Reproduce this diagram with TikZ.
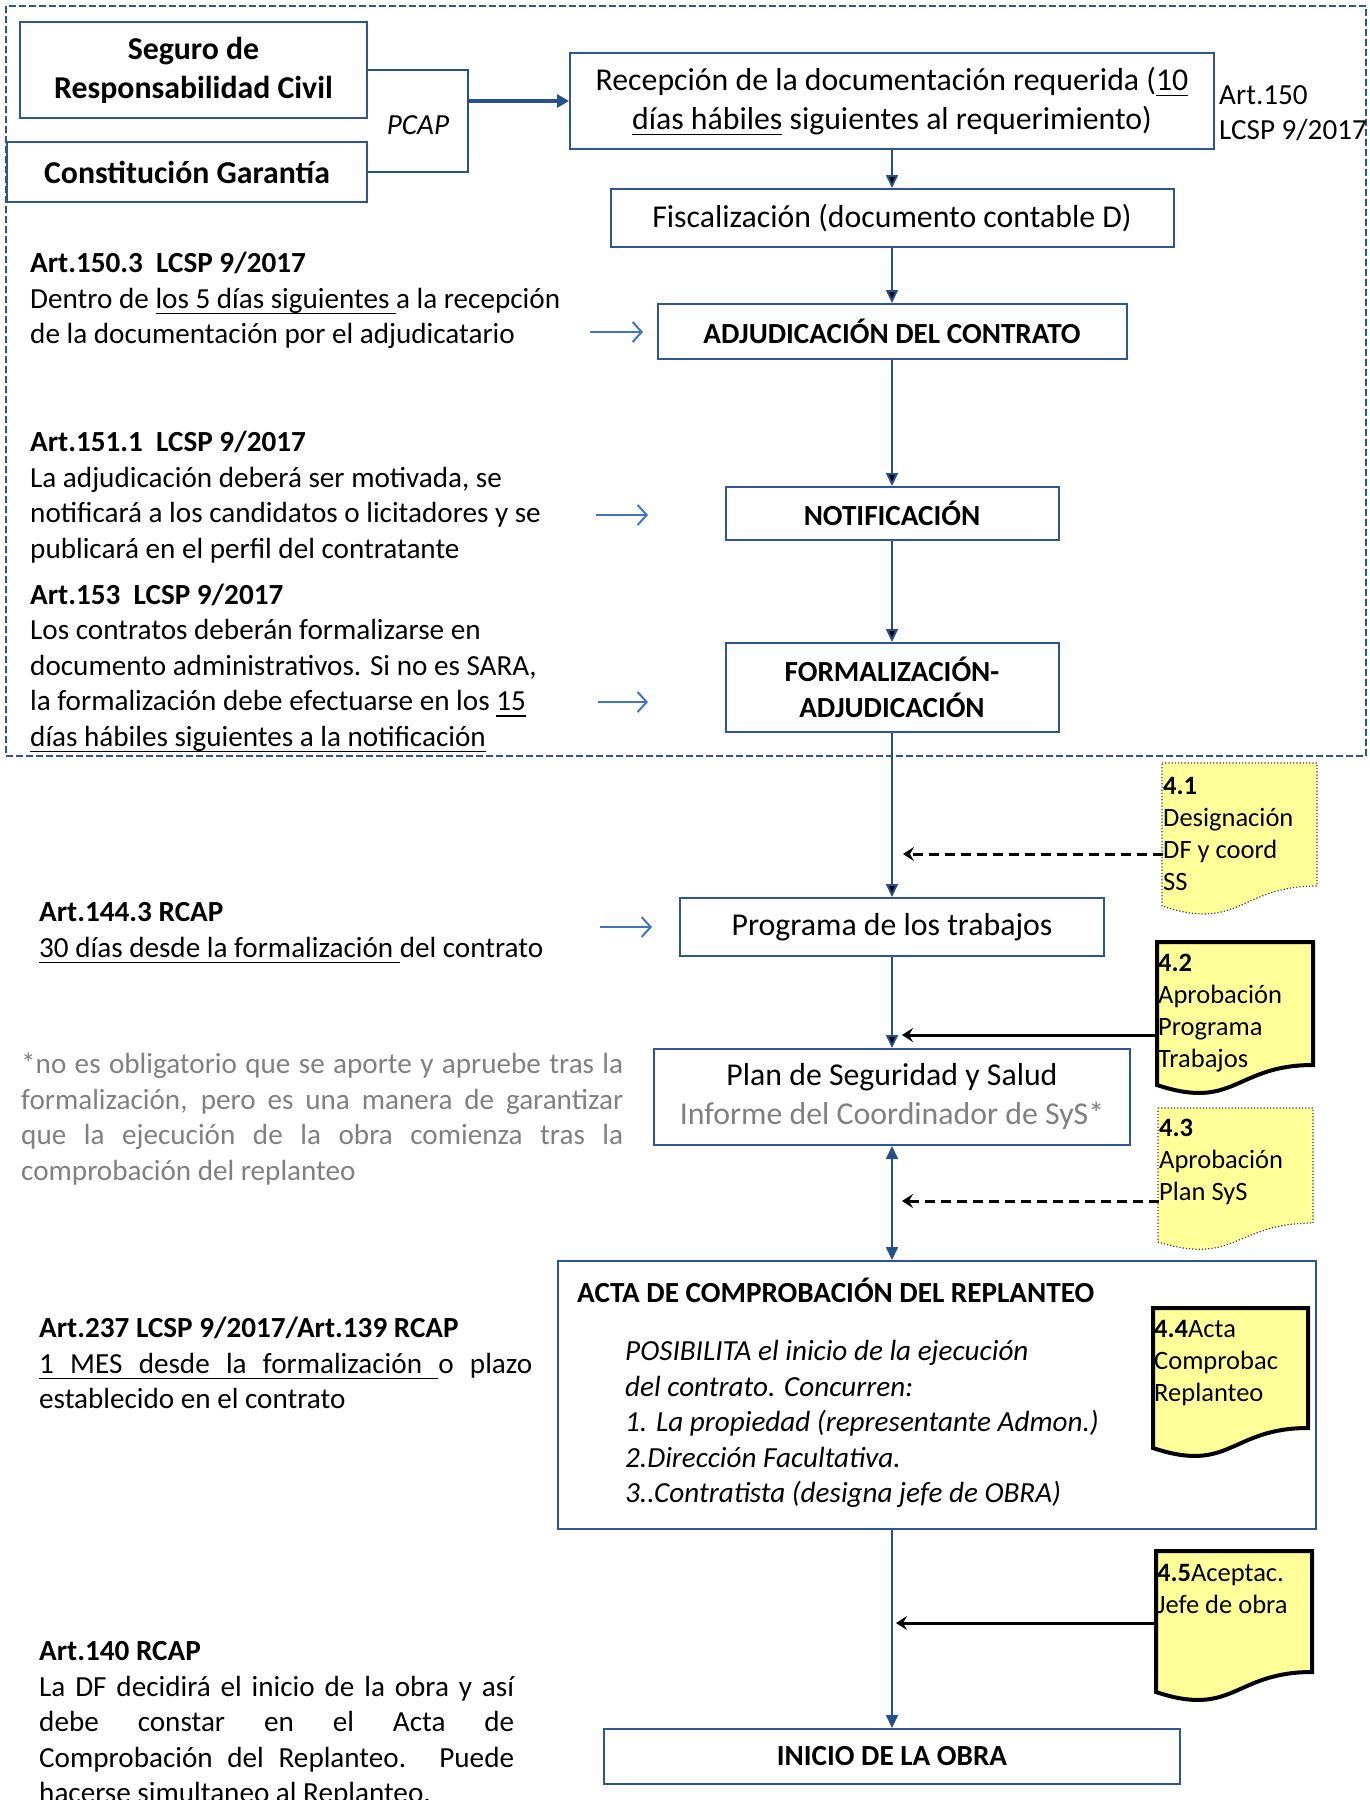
\documentclass[tikz,border=0pt]{standalone}
\usepackage{fontspec}
\setmainfont{Carlito}
\usetikzlibrary{arrows.meta}

\newcommand\sizeL{\fontsize{31.8}{39}\selectfont}
\newcommand\sizeM{\fontsize{29.15}{35.5}\selectfont}
\newcommand\sizeS{\fontsize{26.5}{32}\selectfont}
\newcommand\undl[1]{\leavevmode\setbox0\hbox{#1}\rlap{\rule[-6pt]{\wd0}{1.6pt}}\box0\relax}
\newcommand\ulgap{\leaders\hrule height -4.4pt depth 6pt\hskip\fontdimen2\font plus\fontdimen3\font minus\fontdimen4\font\relax}

\definecolor{boxblue}{RGB}{47,85,151}
\definecolor{flowblue}{RGB}{37,80,140}
\definecolor{refblue}{RGB}{68,114,196}
\definecolor{noteyellow}{RGB}{255,255,153}
\definecolor{softgrey}{RGB}{128,128,128}

\begin{document}
\begin{tikzpicture}[x=1pt,y=-1pt,
    flowbox/.style={draw=boxblue,line width=2pt,inner sep=0pt,align=center,font=\sizeL},
    flow/.style={draw=flowblue,line width=2pt,-{Triangle[length=13pt,width=12pt]}},
    refarrow/.style={draw=refblue,line width=2pt,-{Straight Barb[length=9pt,width=20pt]}},
    notelink/.style={draw=black,line width=3pt,-{Stealth[length=11pt,width=14pt,inset=4pt]}},
    notedash/.style={notelink,dash pattern=on 10pt off 6pt},
    notethick/.style={draw=black,line width=4pt,fill=noteyellow},
    notedot/.style={draw=black!75,line width=1.2pt,dotted,fill=noteyellow},
    notetext/.style={anchor=west,inner sep=0pt,align=left,font=\sizeS},
    law/.style={anchor=west,inner sep=0pt,align=left,font=\sizeM,yshift=-3pt}]
    \useasboundingbox (0,0) rectangle (1369,1800);

    \draw[draw=boxblue,line width=2pt,dash pattern=on 7pt off 3pt] (6,6) rectangle (1366,756);

    \node (seg) at (193.5,70) [flowbox,font=\sizeL\bfseries,minimum width=347pt,minimum height=96pt] {Seguro de\\Responsabilidad Civil};
    \node (con) at (187,172) [flowbox,font=\sizeL\bfseries,minimum width=360pt,minimum height=60pt] {Constitución Garantía};
    \node (pcap) at (418,125) [font=\sizeM\itshape] {PCAP};
    \node (rec) at (892,101) [flowbox,minimum width=644pt,minimum height=96pt] {Recepción de la documentación requerida (\undl{10}\\\undl{días hábiles} siguientes al requerimiento)};
    \node (art150) at (1219,113) [law,yshift=3pt] {Art.150\\LCSP 9/2017};
    \node (fis) at (892,218) [flowbox,minimum width=563pt,minimum height=58pt] {Fiscalización (documento contable D)};
    \node (adj) at (892,331.5) [flowbox,font=\sizeM\bfseries,minimum width=469pt,minimum height=55pt] {ADJUDICACIÓN DEL CONTRATO};
    \node (notif) at (892,513.5) [flowbox,font=\sizeM\bfseries,minimum width=333pt,minimum height=53pt] {NOTIFICACIÓN};
    \node (form) at (892,687.5) [flowbox,font=\sizeM\bfseries,minimum width=333pt,minimum height=89pt] {FORMALIZACIÓN-\\ADJUDICACIÓN};
    \node (prog) at (892,927) [flowbox,minimum width=424pt,minimum height=58pt] {Programa de los trabajos};
    \node (plan) at (892,1097) [flowbox,minimum width=476pt,minimum height=96pt] {Plan de Seguridad y Salud\\\textcolor{softgrey}{Informe del Coordinador de SyS*}};
    \node (acta) at (937,1395) [flowbox,minimum width=758pt,minimum height=268pt] {};
    \node (actatit) at (577,1290) [law,yshift=3pt,font=\sizeM\bfseries] {ACTA DE COMPROBACIÓN DEL REPLANTEO};
    \node (actatxt) at (625,1421) [law,font=\sizeM\itshape] {POSIBILITA el inicio de la ejecución\\del contrato. Concurren:\\1. La propiedad (representante Admon.)\\2.Dirección Facultativa.\\3..Contratista (designa jefe de OBRA)};
    \node (ini) at (892,1756.5) [flowbox,font=\sizeM\bfseries,minimum width=576pt,minimum height=55pt] {INICIO DE LA OBRA};

    \node (l1503) at (30,297.5) [law] {\textbf{Art.150.3\ \ LCSP 9/2017}\\Dentro de \undl{los 5 días siguientes\ }a la recepción\\de la documentación por el adjudicatario};
    \node (l1511) at (30,494) [law] {\textbf{Art.151.1\ \ LCSP 9/2017}\\La adjudicación deberá ser motivada, se\\notificará a los candidatos o licitadores y se\\publicará en el perfil del contratante};
    \node (l153) at (30,665) [law] {\textbf{Art.153\ \ LCSP 9/2017}\\Los contratos deberán formalizarse en\\documento administrativos. Si no es SARA,\\la formalización debe efectuarse en los \undl{15}\\\undl{días hábiles siguientes a la notificación}};
    \node (l1443) at (39,930) [law] {\textbf{Art.144.3 RCAP}\\\undl{30 días desde la formalización\ }del contrato};
    \node (nota) at (21,1116) [law,text width=602pt,align=justify,text=softgrey] {*no es obligatorio que se aporte y apruebe tras la\linebreak formalización, pero es una manera de garantizar\linebreak que la ejecución de la obra comienza tras la\linebreak comprobación del replanteo};
    \node (l237) at (39,1360) [law,text width=493pt,align=justify] {\textbf{Art.237 LCSP 9/2017/Art.139 RCAP}\\\undl{1}\ulgap\undl{MES}\ulgap\undl{desde}\ulgap\undl{la}\ulgap\undl{formalización}\ulgap o plazo\linebreak establecido en el contrato};
    \node (l140) at (39,1721.5) [law,text width=475pt,align=justify] {\textbf{Art.140 RCAP}\\La DF decidirá el inicio de la obra y así\linebreak debe constar en el Acta de\linebreak Comprobación del Replanteo. Puede\linebreak hacerse simultaneo al Replanteo.};

    \draw[notedot] (1162,763) -- (1317,763) -- (1317,886) .. controls (1239.5,886) and (1239.5,932) .. (1162,906) -- cycle;
    \draw[notethick] (1157,942) -- (1313,942) -- (1313,1065) .. controls (1235,1065) and (1235,1111) .. (1157,1085) -- cycle;
    \draw[notedot] (1158,1108) -- (1313,1108) -- (1313,1223) .. controls (1235.5,1223) and (1235.5,1266) .. (1158,1242) -- cycle;
    \draw[notethick] (1153,1308) -- (1308,1308) -- (1308,1428) .. controls (1230.5,1428) and (1230.5,1474) .. (1153,1448) -- cycle;
    \draw[notethick] (1156,1551) -- (1312,1551) -- (1312,1672) .. controls (1234,1672) and (1234,1718) .. (1156,1692) -- cycle;
    \node (n41) at (1163,833.5) [notetext] {\textbf{4.1}\\Designación\\DF y coord\\SS};
    \node (n42) at (1158,1013) [notetext] {\textbf{4.2}\\Aprobación\\Programa\\Trabajos};
    \node (n43) at (1159,1162) [notetext] {\textbf{4.3}\\Aprobación\\Plan SyS};
    \node (n44) at (1154,1363) [notetext] {\textbf{4.4}Acta\\Comprobac\\Replanteo};
    \node (n45) at (1157,1589) [notetext] {\textbf{4.5}Aceptac.\\Jefe de obra};

    \coordinate (j1) at (468,70);
    \coordinate (j2) at (468,172);
    \draw[draw=flowblue,line width=2.7pt] (seg.east) -- (j1) -- (j2) -- (con.east);
    \draw[draw=flowblue,line width=3.3pt,-{Triangle[length=12pt,width=13pt]}] (j1 |- rec.west) -- (rec.west);

    \draw[flow]
    (rec) edge (fis)
    (fis) edge (adj)
    (adj) edge (notif)
    (notif) edge (form)
    (form) edge (prog)
    (prog) edge (plan)
    ;
    \draw[flow,{Triangle[length=13pt,width=12pt]}-{Triangle[length=13pt,width=12pt]}] (plan) -- (plan.south |- acta.north);
    \draw[flow] (ini.north |- acta.south) -- (ini);

    \coordinate (r1a) at (590,332);
    \coordinate (r1b) at (643,332);
    \coordinate (r2a) at (596,515);
    \coordinate (r2b) at (648,515);
    \coordinate (r3a) at (598,702);
    \coordinate (r3b) at (648,702);
    \coordinate (r4a) at (600,927);
    \coordinate (r4b) at (652,927);
    \draw[refarrow] (r1a) -- (r1b);
    \draw[refarrow] (r2a) -- (r2b);
    \draw[refarrow] (r3a) -- (r3b);
    \draw[refarrow] (r4a) -- (r4b);

    \coordinate (c41) at (903,854);
    \coordinate (c42) at (902,1035);
    \coordinate (c43) at (902,1201);
    \coordinate (c45) at (896,1623);
    \draw[notedash] (n41.west |- c41) -- (c41);
    \draw[notelink] (n42.west |- c42) -- (c42);
    \draw[notedash] (n43.west |- c43) -- (c43);
    \draw[notelink] (n45.west |- c45) -- (c45);
\end{tikzpicture}
\end{document}
